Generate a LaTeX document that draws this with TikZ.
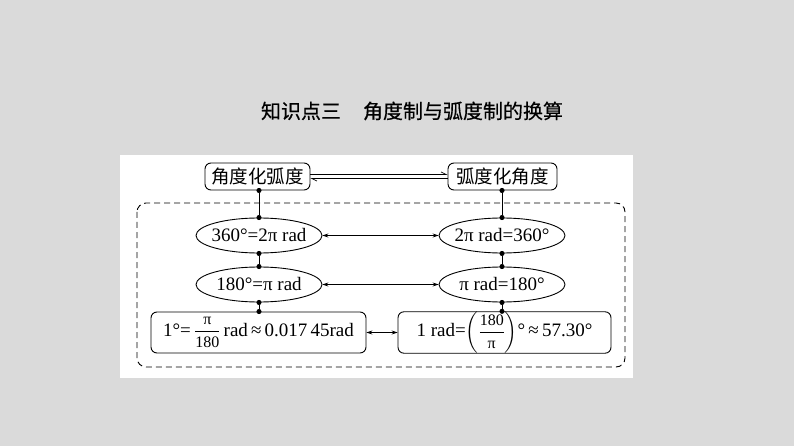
\documentclass[tikz,border=0pt]{standalone}
\usepackage{amsmath}
\usepackage{fontspec}
\setmainfont{Liberation Serif}
\newfontfamily\cjk{Noto Sans CJK SC}
\newfontfamily\cjktitle[FakeBold=0.4]{Noto Sans CJK SC}
\usetikzlibrary{arrows.meta,shapes.geometric,positioning,calc}

\definecolor{bggray}{RGB}{218,218,218}
\newcommand{\fracnum}[1]{\text{\fontsize{16}{16}\selectfont #1}}

\begin{document}
\begin{tikzpicture}[x=1pt,y=-1pt,>={Stealth[length=6pt,width=4pt]},
    every node/.style={font=\fontsize{19}{22}\selectfont},
    topbox/.style={draw,rounded corners=6pt,line width=0.9pt,inner sep=0pt,minimum height=27pt,font=\cjk\fontsize{18.5}{20}\selectfont},
    oval/.style={draw,ellipse,line width=0.9pt,inner xsep=-3pt,inner ysep=0pt,minimum width=126pt,minimum height=35pt},
    lowbox/.style={draw,rounded corners=6pt,line width=0.9pt,inner sep=0pt,minimum height=41pt},
    dotline/.style={line width=0.8pt,{Circle[length=5pt]}-{Circle[length=5pt]},shorten <=-2.5pt,shorten >=-2.5pt},
    link/.style={line width=0.7pt,<->}]
      % background and panel
      \fill[bggray] (0,0) rectangle (794,446);
      \fill[white] (120,155) rectangle (633,378);
      \useasboundingbox (0,0) rectangle (794,446);

      \node (title) at (412,111) {\cjktitle\fontsize{20}{22}\selectfont 知识点三\hspace{1.1em}角度制与弧度制的换算};

      \draw[dashed,line width=0.9pt,dash pattern=on 6pt off 4pt,rounded corners=9pt] (137,203) rectangle (625,367);

      \node[topbox,minimum width=105pt] (a2r) at (257.5,176.5) {角度化弧度};
      \node[topbox,minimum width=109pt] (r2a) at (502.5,176.5) {弧度化角度};

      \node[oval] (d360) at (259,235.5) {360°=2π rad};
      \node[oval] (r360) at (502,235.5) {2π rad=360°};
      \node[oval] (d180) at (259,284.5) {180°=π rad};
      \node[oval] (r180) at (502,284.5) {π rad=180°};

      \node[lowbox,minimum width=215pt] (done) at (258.5,332.5) {1°=\,$\dfrac{\fracnum{π}}{\fracnum{180}}$\,rad\,≈\,0.017\,45rad};
      \node[lowbox,minimum width=213pt] (rone) at (504.5,332.5) {1 rad=$\biggl(\dfrac{\fracnum{180}}{\fracnum{π}}\biggr)$°\,≈\,57.30°};

      % two half arrows between the top boxes
      \draw[line width=0.7pt,-{Straight Barb[left,length=5pt,width=5pt]}] ($(a2r.east)+(0,-2)$) -- ($(r2a.west)+(0,-2)$);
      \draw[line width=0.7pt,-{Straight Barb[left,length=5pt,width=5pt]}] ($(r2a.west)+(0,2)$) -- ($(a2r.east)+(0,2)$);

      \draw[dotline] (a2r.south -| d360.north) -- (d360.north);
      \draw[dotline] (d360.south) -- (d180.north);
      \draw[dotline] (d180.south) -- (d180.south |- done.north);
      \draw[dotline] (r2a.south -| r360.north) -- (r360.north);
      \draw[dotline] (r360.south) -- (r180.north);
      \draw[dotline] (r180.south) -- (r180.south |- rone.north);

      \path
      (d360) edge [link] (r360)
      (d180) edge [link] (r180)
      (done) edge [link] (rone);

\end{tikzpicture}
\end{document}
